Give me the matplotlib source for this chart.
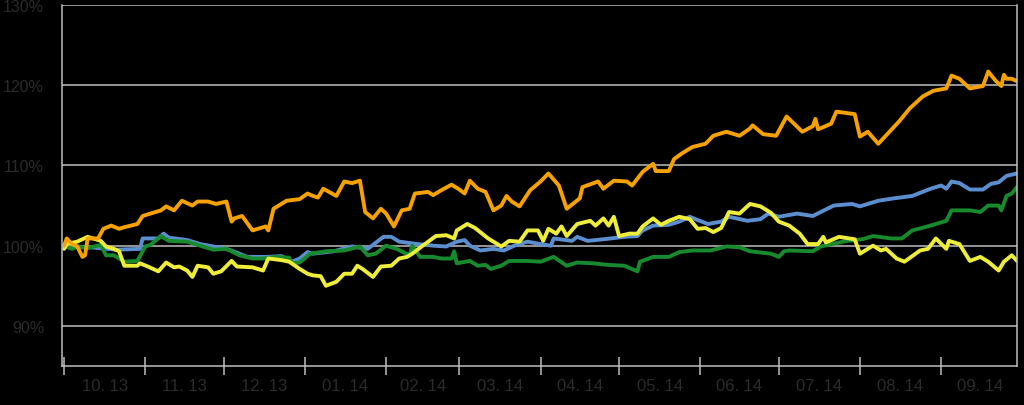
import matplotlib
matplotlib.use("Agg")
import matplotlib.pyplot as plt
import matplotlib.dates as mdates
from matplotlib.ticker import FixedLocator, NullFormatter
import pandas as pd
import numpy as np

base = pd.Timestamp("2013-10-01")

orange_days = [0,1,3,5,7,8,9,13,15,18,21,23,28,30,37,39,42,45,49,51,55,58,62,64,65,68,72,77,78,80,85,90,93,95,97,99,104,107,110,113,115,118,121,123,126,129,132,134,139,141,144,148,151,153,155,158,161,164,167,169,171,174,178,182,185,189,192,197,198,204,206,210,215,217,221,225,226,231,233,236,240,245,248,253,258,262,263,267,272,276,282,286,287,288,293,295,302,304,307,311,317,319,323,328,332,337,339,342,346,351,353,356,358,359,360,362,364]
orange_vals = [100.0,100.9,100.2,99.9,98.6,98.8,100.9,100.9,102.1,102.5,102.1,102.3,102.7,103.7,104.4,104.9,104.4,105.6,105.0,105.5,105.5,105.2,105.5,103.0,103.4,103.7,101.9,102.4,101.9,104.6,105.6,105.8,106.5,106.2,106.0,107.1,106.2,108.0,107.8,108.1,104.2,103.4,104.6,104.0,102.4,104.4,104.6,106.5,106.7,106.3,106.9,107.6,107.0,106.5,108.1,107.1,106.7,104.4,105.0,106.2,105.5,104.9,106.9,108.0,109.0,107.5,104.6,105.9,107.3,108.0,107.1,108.1,108.0,107.5,109.2,110.2,109.3,109.3,110.8,111.5,112.3,112.7,113.7,114.2,113.7,114.6,115.0,113.9,113.7,116.1,114.2,114.9,115.8,114.5,115.2,116.7,116.4,113.6,114.2,112.7,114.8,115.5,117.1,118.6,119.3,119.6,121.2,120.8,119.6,119.9,121.7,120.5,119.9,121.3,120.8,120.8,120.5]

blue_days = [0,10,20,29,30,36,38,40,47,52,57,63,70,78,83,87,90,93,95,103,110,116,122,125,128,135,141,146,150,153,155,159,164,168,172,177,182,186,187,194,196,200,206,214,219,221,225,231,235,239,242,246,251,254,261,266,269,273,280,286,294,301,304,311,317,324,331,335,337,339,342,346,351,354,357,360,364]
blue_vals = [100.0,99.8,99.5,99.6,100.9,100.9,101.5,101.0,100.7,100.2,99.9,99.5,98.6,98.6,98.7,98.0,98.4,99.2,99.0,99.3,99.9,99.6,101.1,101.1,100.5,100.2,100.0,99.9,100.5,100.7,100.0,99.4,99.6,99.4,100.0,100.5,100.2,100.0,100.9,100.6,101.1,100.6,100.8,101.1,101.2,101.9,102.5,102.6,103.0,103.6,103.2,102.7,103.0,103.6,103.1,103.3,104.0,103.6,104.0,103.7,105.0,105.2,104.9,105.6,105.9,106.2,107.1,107.5,107.1,108.0,107.8,107.0,107.0,107.7,107.9,108.7,109.0]

green_days = [0,3,5,9,14,16,19,23,28,31,33,37,40,47,52,57,62,67,72,76,81,86,87,90,94,100,107,113,116,119,123,127,132,133,136,141,144,148,149,150,155,158,161,163,167,170,177,182,187,192,196,202,208,214,219,220,225,231,235,240,247,253,258,262,270,273,275,277,286,289,299,305,309,316,320,324,331,337,339,346,350,353,357,358,360,362,364]
green_vals = [100.0,99.6,99.9,99.7,100.1,98.8,98.8,98.0,98.1,99.9,100.1,101.2,100.6,100.5,100.0,99.5,99.6,98.8,98.4,98.4,98.6,98.5,97.8,97.9,99.0,99.3,99.4,99.9,98.8,99.0,100.0,99.6,98.8,100.0,98.6,98.6,98.4,98.4,99.3,97.8,98.1,97.5,97.6,97.1,97.5,98.1,98.1,98.0,98.6,97.5,97.9,97.8,97.6,97.5,96.8,98.0,98.6,98.6,99.2,99.4,99.4,99.9,99.8,99.3,99.0,98.6,99.3,99.4,99.3,99.9,100.6,100.8,101.2,100.9,100.9,101.9,102.5,103.1,104.4,104.4,104.2,105.0,105.0,104.4,106.2,106.5,107.3]

yellow_days = [0,1,5,9,14,16,19,21,23,28,29,32,36,39,42,44,47,49,51,55,57,60,64,66,72,76,78,83,86,90,93,95,98,100,104,107,110,112,114,118,121,125,128,131,133,137,142,146,149,150,154,157,162,167,170,174,177,181,183,185,188,190,192,196,201,203,206,208,210,212,216,219,221,225,228,231,235,239,242,245,248,251,254,258,262,266,270,273,277,281,284,288,290,291,296,300,302,304,309,312,314,318,321,327,330,333,337,338,342,346,350,353,357,359,362,364]
yellow_vals = [99.6,100.2,100.5,101.1,100.6,99.9,99.6,99.3,97.5,97.5,97.8,97.4,96.8,97.9,97.3,97.4,96.9,96.1,97.5,97.3,96.5,96.8,98.1,97.4,97.3,96.9,98.4,98.2,98.0,97.1,96.5,96.3,96.2,95.0,95.5,96.5,96.5,97.5,97.1,96.1,97.4,97.5,98.4,98.6,99.0,100.0,101.2,101.3,100.9,101.9,102.7,102.2,100.9,99.9,100.6,100.5,101.9,101.9,100.6,102.1,101.5,102.4,101.2,102.7,103.1,102.5,103.4,102.5,103.6,101.2,101.5,101.5,102.4,103.4,102.6,103.1,103.6,103.3,102.1,102.2,101.7,102.2,104.2,104.0,105.2,104.9,104.1,103.0,102.5,101.5,100.2,100.2,101.1,100.4,101.1,100.9,100.8,99.0,100.0,99.4,99.6,98.4,98.0,99.4,99.6,100.9,99.6,100.6,100.2,98.1,98.6,98.0,96.9,98.0,98.8,98.1]

month_labels = ["10. 13","11. 13","12. 13","01. 14","02. 14","03. 14","04. 14","05. 14","06. 14","07. 14","08. 14","09. 14"]
y_ticks = [90, 100, 110, 120, 130]
y_labels = ["90%", "100%", "110%", "120%", "130%"]

colors = {"orange": "#F5A200", "green": "#178A2E", "blue": "#5B8ECF", "yellow": "#EEEE3A"}

fig = plt.figure(figsize=(10.24, 4.06), dpi=100, facecolor="black")
ax = fig.add_axes([62/1024, 1-367/406, (1017-62)/1024, (367-6)/406])
ax.set_facecolor("black")

order = [(blue_days, blue_vals, colors["blue"]), (green_days, green_vals, colors["green"]),
         (yellow_days, yellow_vals, colors["yellow"]), (orange_days, orange_vals, colors["orange"])]
for days, vals, col in order:
    dates = base + pd.to_timedelta(days, unit="D")
    ax.plot(dates, vals, color=col, lw=2.8, solid_joinstyle="round", solid_capstyle="round")

start = pd.Timestamp("2013-10-01")
end = pd.Timestamp("2014-09-30")
ax.set_xlim(start - pd.Timedelta(days=0.8), end)
ax.set_ylim(85, 130)

grid_col = "#BEBEBE"
for y in y_ticks:
    ax.axhline(y, color=grid_col, lw=1.1, zorder=0.5)

month_starts = pd.date_range("2013-10-01", "2014-09-01", freq="MS")
month_ends = list(month_starts[1:]) + [pd.Timestamp("2014-10-01")]
mids = [s + (e - s) / 2 for s, e in zip(month_starts, month_ends)]
ax.xaxis.set_major_locator(FixedLocator(mdates.date2num(month_starts)))
ax.xaxis.set_major_formatter(NullFormatter())
ax.xaxis.set_minor_locator(FixedLocator(mdates.date2num(mids)))
ax.set_xticklabels(month_labels, minor=True)
ax.tick_params(axis="x", which="major", direction="inout", length=13, width=1.1, color=grid_col)
ax.tick_params(axis="x", which="minor", length=0, pad=9, labelsize=12, labelcolor="#2B2B2B")

ax.set_yticks(y_ticks)
ax.set_yticklabels(y_labels)
ax.tick_params(axis="y", length=0, pad=13, labelsize=11.5, labelcolor="#2B2B2B")

for lab in ax.get_xticklabels(minor=True) + ax.get_yticklabels():
    lab.set_fontfamily("Liberation Sans")

for side in ["left", "bottom", "right"]:
    ax.spines[side].set_color(grid_col)
    ax.spines[side].set_linewidth(1.1)
ax.spines["top"].set_visible(False)

fig.savefig("out.png", dpi=100, facecolor="black")
